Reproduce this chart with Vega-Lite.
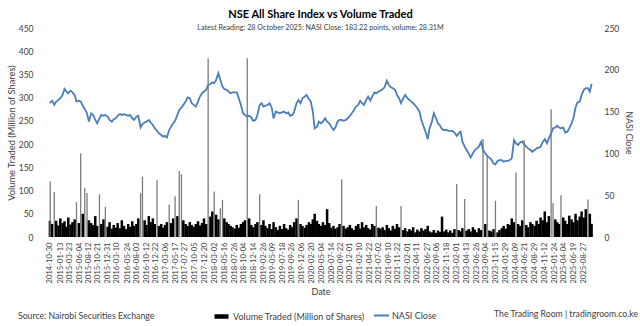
{
  "$schema": "https://vega.github.io/schema/vega-lite/v6.json",
  "width": 553,
  "height": 209,
  "autosize": {"type": "none"},
  "padding": {"left": 44, "top": 28, "right": 43, "bottom": 89},
  "background": "white",
  "title": {
    "text": "NSE All Share Index vs Volume Traded",
    "subtitle": "Latest Reading: 28 October 2025: NASI Close: 183.22 points, volume: 28.31M",
    "anchor": "middle",
    "frame": "group",
    "font": "Lato",
    "fontSize": 11,
    "fontWeight": "bold",
    "color": "#000000",
    "subtitleFont": "Lato",
    "subtitleFontSize": 7.2,
    "subtitleColor": "#404040",
    "subtitlePadding": 4,
    "offset": -7
  },
  "data": {
    "format": {"parse": {"date": "utc:'%Y-%m-%d'"}},
    "values": [
      {"date":"2014-10-30","volume":35,"nasi":160},
      {"date":"2014-11-01","volume":120,"nasi":161},
      {"date":"2014-11-15","volume":28,"nasi":163},
      {"date":"2014-12-01","volume":97,"nasi":158},
      {"date":"2014-12-15","volume":35,"nasi":162},
      {"date":"2015-01-01","volume":25,"nasi":164},
      {"date":"2015-01-15","volume":40,"nasi":166},
      {"date":"2015-02-01","volume":30,"nasi":170},
      {"date":"2015-02-15","volume":34,"nasi":177},
      {"date":"2015-03-01","volume":22,"nasi":174},
      {"date":"2015-03-15","volume":42,"nasi":172},
      {"date":"2015-04-01","volume":27,"nasi":175},
      {"date":"2015-04-15","volume":32,"nasi":173},
      {"date":"2015-05-01","volume":38,"nasi":170},
      {"date":"2015-05-15","volume":75,"nasi":162},
      {"date":"2015-06-01","volume":30,"nasi":163},
      {"date":"2015-06-15","volume":180,"nasi":162},
      {"date":"2015-07-01","volume":50,"nasi":157},
      {"date":"2015-07-15","volume":105,"nasi":153},
      {"date":"2015-08-01","volume":95,"nasi":148},
      {"date":"2015-08-15","volume":36,"nasi":138},
      {"date":"2015-09-01","volume":30,"nasi":148},
      {"date":"2015-09-15","volume":26,"nasi":146},
      {"date":"2015-10-01","volume":45,"nasi":140},
      {"date":"2015-10-15","volume":24,"nasi":136},
      {"date":"2015-11-01","volume":92,"nasi":142},
      {"date":"2015-11-15","volume":28,"nasi":146},
      {"date":"2015-12-01","volume":38,"nasi":145},
      {"date":"2015-12-15","volume":65,"nasi":146},
      {"date":"2016-01-01","volume":22,"nasi":144},
      {"date":"2016-01-15","volume":32,"nasi":140},
      {"date":"2016-02-01","volume":18,"nasi":138},
      {"date":"2016-02-15","volume":26,"nasi":141},
      {"date":"2016-03-01","volume":20,"nasi":142},
      {"date":"2016-03-15","volume":30,"nasi":145},
      {"date":"2016-04-01","volume":19,"nasi":147},
      {"date":"2016-04-15","volume":36,"nasi":146},
      {"date":"2016-05-01","volume":24,"nasi":147},
      {"date":"2016-05-15","volume":17,"nasi":146},
      {"date":"2016-06-01","volume":28,"nasi":145},
      {"date":"2016-06-15","volume":22,"nasi":146},
      {"date":"2016-07-01","volume":34,"nasi":142},
      {"date":"2016-07-15","volume":24,"nasi":140},
      {"date":"2016-08-01","volume":28,"nasi":144},
      {"date":"2016-08-15","volume":40,"nasi":145},
      {"date":"2016-09-01","volume":95,"nasi":131},
      {"date":"2016-09-15","volume":130,"nasi":135},
      {"date":"2016-10-01","volume":36,"nasi":137},
      {"date":"2016-10-15","volume":26,"nasi":138},
      {"date":"2016-11-01","volume":45,"nasi":140},
      {"date":"2016-11-15","volume":32,"nasi":137},
      {"date":"2016-12-01","volume":40,"nasi":134},
      {"date":"2016-12-15","volume":28,"nasi":130},
      {"date":"2017-01-01","volume":122,"nasi":127},
      {"date":"2017-01-15","volume":24,"nasi":124},
      {"date":"2017-02-01","volume":28,"nasi":122},
      {"date":"2017-02-15","volume":20,"nasi":120},
      {"date":"2017-03-01","volume":26,"nasi":121},
      {"date":"2017-03-15","volume":32,"nasi":119},
      {"date":"2017-04-01","volume":70,"nasi":128},
      {"date":"2017-04-15","volume":30,"nasi":132},
      {"date":"2017-05-01","volume":40,"nasi":136},
      {"date":"2017-05-15","volume":88,"nasi":139},
      {"date":"2017-06-01","volume":45,"nasi":146},
      {"date":"2017-06-15","volume":142,"nasi":152},
      {"date":"2017-07-01","volume":135,"nasi":155},
      {"date":"2017-07-15","volume":36,"nasi":158},
      {"date":"2017-08-01","volume":28,"nasi":162},
      {"date":"2017-08-15","volume":24,"nasi":167},
      {"date":"2017-09-01","volume":32,"nasi":166},
      {"date":"2017-09-15","volume":26,"nasi":160},
      {"date":"2017-10-01","volume":22,"nasi":158},
      {"date":"2017-10-15","volume":28,"nasi":156},
      {"date":"2017-11-01","volume":34,"nasi":162},
      {"date":"2017-11-15","volume":25,"nasi":168},
      {"date":"2017-12-01","volume":30,"nasi":172},
      {"date":"2017-12-15","volume":40,"nasi":174},
      {"date":"2018-01-01","volume":28,"nasi":176},
      {"date":"2018-01-15","volume":385,"nasi":182},
      {"date":"2018-02-01","volume":44,"nasi":183},
      {"date":"2018-02-15","volume":55,"nasi":185},
      {"date":"2018-03-01","volume":98,"nasi":184},
      {"date":"2018-03-15","volume":48,"nasi":188},
      {"date":"2018-04-01","volume":38,"nasi":196},
      {"date":"2018-04-15","volume":62,"nasi":188},
      {"date":"2018-05-01","volume":80,"nasi":180},
      {"date":"2018-05-15","volume":40,"nasi":177},
      {"date":"2018-06-01","volume":32,"nasi":176},
      {"date":"2018-06-15","volume":28,"nasi":174},
      {"date":"2018-07-01","volume":24,"nasi":172},
      {"date":"2018-07-15","volume":21,"nasi":173},
      {"date":"2018-08-01","volume":18,"nasi":173},
      {"date":"2018-08-15","volume":26,"nasi":173},
      {"date":"2018-09-01","volume":20,"nasi":165},
      {"date":"2018-09-15","volume":28,"nasi":158},
      {"date":"2018-10-01","volume":32,"nasi":148},
      {"date":"2018-10-15","volume":36,"nasi":146},
      {"date":"2018-11-01","volume":385,"nasi":144},
      {"date":"2018-11-15","volume":40,"nasi":145},
      {"date":"2018-12-01","volume":26,"nasi":143},
      {"date":"2018-12-15","volume":21,"nasi":139},
      {"date":"2019-01-01","volume":28,"nasi":140},
      {"date":"2019-01-15","volume":32,"nasi":146},
      {"date":"2019-02-01","volume":92,"nasi":158},
      {"date":"2019-02-15","volume":26,"nasi":160},
      {"date":"2019-03-01","volume":36,"nasi":156},
      {"date":"2019-03-15","volume":24,"nasi":157},
      {"date":"2019-04-01","volume":19,"nasi":158},
      {"date":"2019-04-15","volume":28,"nasi":160},
      {"date":"2019-05-01","volume":17,"nasi":155},
      {"date":"2019-05-15","volume":32,"nasi":142},
      {"date":"2019-06-01","volume":21,"nasi":150},
      {"date":"2019-06-15","volume":15,"nasi":149},
      {"date":"2019-07-01","volume":24,"nasi":148},
      {"date":"2019-07-15","volume":17,"nasi":149},
      {"date":"2019-08-01","volume":28,"nasi":150},
      {"date":"2019-08-15","volume":19,"nasi":148},
      {"date":"2019-09-01","volume":16,"nasi":149},
      {"date":"2019-09-15","volume":26,"nasi":145},
      {"date":"2019-10-01","volume":21,"nasi":146},
      {"date":"2019-10-15","volume":32,"nasi":150},
      {"date":"2019-11-01","volume":40,"nasi":160},
      {"date":"2019-11-15","volume":80,"nasi":164},
      {"date":"2019-12-01","volume":28,"nasi":160},
      {"date":"2019-12-15","volume":24,"nasi":166},
      {"date":"2020-01-01","volume":20,"nasi":168},
      {"date":"2020-01-15","volume":26,"nasi":170},
      {"date":"2020-02-01","volume":32,"nasi":165},
      {"date":"2020-02-15","volume":28,"nasi":162},
      {"date":"2020-03-01","volume":38,"nasi":150},
      {"date":"2020-03-15","volume":50,"nasi":130},
      {"date":"2020-04-01","volume":35,"nasi":132},
      {"date":"2020-04-15","volume":28,"nasi":138},
      {"date":"2020-05-01","volume":24,"nasi":136},
      {"date":"2020-05-15","volume":32,"nasi":138},
      {"date":"2020-06-01","volume":26,"nasi":142},
      {"date":"2020-06-15","volume":60,"nasi":138},
      {"date":"2020-07-01","volume":30,"nasi":136},
      {"date":"2020-07-15","volume":20,"nasi":132},
      {"date":"2020-08-01","volume":24,"nasi":128},
      {"date":"2020-08-15","volume":18,"nasi":131},
      {"date":"2020-09-01","volume":21,"nasi":138},
      {"date":"2020-09-15","volume":28,"nasi":140},
      {"date":"2020-10-01","volume":124,"nasi":140},
      {"date":"2020-10-15","volume":24,"nasi":139},
      {"date":"2020-11-01","volume":18,"nasi":140},
      {"date":"2020-11-15","volume":21,"nasi":142},
      {"date":"2020-12-01","volume":26,"nasi":145},
      {"date":"2020-12-15","volume":19,"nasi":148},
      {"date":"2021-01-01","volume":15,"nasi":152},
      {"date":"2021-01-15","volume":24,"nasi":156},
      {"date":"2021-02-01","volume":28,"nasi":158},
      {"date":"2021-02-15","volume":18,"nasi":163},
      {"date":"2021-03-01","volume":32,"nasi":160},
      {"date":"2021-03-15","volume":21,"nasi":158},
      {"date":"2021-04-01","volume":26,"nasi":164},
      {"date":"2021-04-15","volume":19,"nasi":168},
      {"date":"2021-05-01","volume":16,"nasi":163},
      {"date":"2021-05-15","volume":28,"nasi":168},
      {"date":"2021-06-01","volume":24,"nasi":173},
      {"date":"2021-06-15","volume":67,"nasi":172},
      {"date":"2021-07-01","volume":20,"nasi":174},
      {"date":"2021-07-15","volume":18,"nasi":175},
      {"date":"2021-08-01","volume":21,"nasi":177},
      {"date":"2021-08-15","volume":15,"nasi":179},
      {"date":"2021-09-01","volume":26,"nasi":187},
      {"date":"2021-09-15","volume":19,"nasi":182},
      {"date":"2021-10-01","volume":14,"nasi":179},
      {"date":"2021-10-15","volume":24,"nasi":178},
      {"date":"2021-11-01","volume":18,"nasi":176},
      {"date":"2021-11-15","volume":28,"nasi":170},
      {"date":"2021-12-01","volume":21,"nasi":166},
      {"date":"2021-12-15","volume":67,"nasi":160},
      {"date":"2022-01-01","volume":15,"nasi":166},
      {"date":"2022-01-15","volume":19,"nasi":170},
      {"date":"2022-02-01","volume":12,"nasi":166},
      {"date":"2022-02-15","volume":17,"nasi":164},
      {"date":"2022-03-01","volume":14,"nasi":162},
      {"date":"2022-03-15","volume":21,"nasi":160},
      {"date":"2022-04-01","volume":10,"nasi":157},
      {"date":"2022-04-15","volume":16,"nasi":154},
      {"date":"2022-05-01","volume":12,"nasi":150},
      {"date":"2022-05-15","volume":19,"nasi":140},
      {"date":"2022-06-01","volume":14,"nasi":132},
      {"date":"2022-06-15","volume":17,"nasi":126},
      {"date":"2022-07-01","volume":24,"nasi":117},
      {"date":"2022-07-15","volume":12,"nasi":130},
      {"date":"2022-08-01","volume":10,"nasi":138},
      {"date":"2022-08-15","volume":15,"nasi":148},
      {"date":"2022-09-01","volume":9,"nasi":142},
      {"date":"2022-09-15","volume":14,"nasi":136},
      {"date":"2022-10-01","volume":11,"nasi":133},
      {"date":"2022-10-15","volume":44,"nasi":129},
      {"date":"2022-11-01","volume":12,"nasi":128},
      {"date":"2022-11-15","volume":16,"nasi":128},
      {"date":"2022-12-01","volume":10,"nasi":127},
      {"date":"2022-12-15","volume":14,"nasi":127},
      {"date":"2023-01-01","volume":9,"nasi":127},
      {"date":"2023-01-15","volume":17,"nasi":125},
      {"date":"2023-02-01","volume":114,"nasi":121},
      {"date":"2023-02-15","volume":15,"nasi":124},
      {"date":"2023-03-01","volume":12,"nasi":126},
      {"date":"2023-03-15","volume":19,"nasi":114},
      {"date":"2023-04-01","volume":82,"nasi":108},
      {"date":"2023-04-15","volume":14,"nasi":104},
      {"date":"2023-05-01","volume":17,"nasi":100},
      {"date":"2023-05-15","volume":12,"nasi":95},
      {"date":"2023-06-01","volume":21,"nasi":100},
      {"date":"2023-06-15","volume":16,"nasi":104},
      {"date":"2023-07-01","volume":10,"nasi":106},
      {"date":"2023-07-15","volume":19,"nasi":108},
      {"date":"2023-08-01","volume":15,"nasi":114},
      {"date":"2023-08-15","volume":211,"nasi":104},
      {"date":"2023-09-01","volume":28,"nasi":100},
      {"date":"2023-09-15","volume":173,"nasi":97},
      {"date":"2023-10-01","volume":14,"nasi":95},
      {"date":"2023-10-15","volume":12,"nasi":93},
      {"date":"2023-11-01","volume":17,"nasi":88},
      {"date":"2023-11-15","volume":78,"nasi":87},
      {"date":"2023-12-01","volume":10,"nasi":91},
      {"date":"2023-12-15","volume":15,"nasi":92},
      {"date":"2024-01-01","volume":19,"nasi":92},
      {"date":"2024-01-15","volume":24,"nasi":90},
      {"date":"2024-02-01","volume":18,"nasi":91},
      {"date":"2024-02-15","volume":28,"nasi":91},
      {"date":"2024-03-01","volume":26,"nasi":92},
      {"date":"2024-03-15","volume":40,"nasi":94},
      {"date":"2024-04-01","volume":32,"nasi":116},
      {"date":"2024-04-15","volume":139,"nasi":112},
      {"date":"2024-05-01","volume":28,"nasi":110},
      {"date":"2024-05-15","volume":24,"nasi":113},
      {"date":"2024-06-01","volume":36,"nasi":114},
      {"date":"2024-06-15","volume":209,"nasi":111},
      {"date":"2024-07-01","volume":26,"nasi":108},
      {"date":"2024-07-15","volume":21,"nasi":106},
      {"date":"2024-08-01","volume":32,"nasi":104},
      {"date":"2024-08-15","volume":28,"nasi":102},
      {"date":"2024-09-01","volume":24,"nasi":104},
      {"date":"2024-09-15","volume":35,"nasi":106},
      {"date":"2024-10-01","volume":28,"nasi":107},
      {"date":"2024-10-15","volume":42,"nasi":108},
      {"date":"2024-11-01","volume":36,"nasi":114},
      {"date":"2024-11-15","volume":55,"nasi":117},
      {"date":"2024-12-01","volume":32,"nasi":112},
      {"date":"2024-12-15","volume":45,"nasi":118},
      {"date":"2025-01-01","volume":275,"nasi":124},
      {"date":"2025-01-15","volume":73,"nasi":130},
      {"date":"2025-02-01","volume":38,"nasi":131},
      {"date":"2025-02-15","volume":32,"nasi":133},
      {"date":"2025-03-01","volume":28,"nasi":131},
      {"date":"2025-03-15","volume":90,"nasi":130},
      {"date":"2025-04-01","volume":42,"nasi":131},
      {"date":"2025-04-15","volume":35,"nasi":125},
      {"date":"2025-05-01","volume":28,"nasi":126},
      {"date":"2025-05-15","volume":46,"nasi":130},
      {"date":"2025-06-01","volume":38,"nasi":136},
      {"date":"2025-06-15","volume":32,"nasi":142},
      {"date":"2025-07-01","volume":50,"nasi":155},
      {"date":"2025-07-15","volume":36,"nasi":161},
      {"date":"2025-08-01","volume":44,"nasi":162},
      {"date":"2025-08-15","volume":55,"nasi":170},
      {"date":"2025-09-01","volume":42,"nasi":176},
      {"date":"2025-09-15","volume":60,"nasi":178},
      {"date":"2025-10-01","volume":81,"nasi":178},
      {"date":"2025-10-15","volume":50,"nasi":174},
      {"date":"2025-10-28","volume":28.31,"nasi":183.22}
    ]
  },
  "encoding": {
    "x": {
      "field": "date",
      "type": "temporal",
      "scale": {
        "type": "utc",
        "nice": false,
        "domain": [
          {"year": 2014, "month": 10, "date": 23, "utc": true},
          {"year": 2025, "month": 10, "date": 31, "utc": true}
        ]
      },
      "axis": {
        "title": "Date",
        "values": [
          {"year":2014,"month":10,"date":30,"utc":true},
          {"year":2015,"month":1,"date":13,"utc":true},
          {"year":2015,"month":3,"date":23,"utc":true},
          {"year":2015,"month":6,"date":4,"utc":true},
          {"year":2015,"month":8,"date":12,"utc":true},
          {"year":2015,"month":10,"date":21,"utc":true},
          {"year":2015,"month":12,"date":31,"utc":true},
          {"year":2016,"month":3,"date":10,"utc":true},
          {"year":2016,"month":5,"date":24,"utc":true},
          {"year":2016,"month":8,"date":3,"utc":true},
          {"year":2016,"month":10,"date":12,"utc":true},
          {"year":2016,"month":12,"date":22,"utc":true},
          {"year":2017,"month":3,"date":6,"utc":true},
          {"year":2017,"month":5,"date":17,"utc":true},
          {"year":2017,"month":7,"date":27,"utc":true},
          {"year":2017,"month":10,"date":5,"utc":true},
          {"year":2017,"month":12,"date":20,"utc":true},
          {"year":2018,"month":3,"date":2,"utc":true},
          {"year":2018,"month":5,"date":16,"utc":true},
          {"year":2018,"month":7,"date":26,"utc":true},
          {"year":2018,"month":10,"date":4,"utc":true},
          {"year":2018,"month":12,"date":14,"utc":true},
          {"year":2019,"month":2,"date":26,"utc":true},
          {"year":2019,"month":5,"date":9,"utc":true},
          {"year":2019,"month":7,"date":18,"utc":true},
          {"year":2019,"month":9,"date":26,"utc":true},
          {"year":2019,"month":12,"date":6,"utc":true},
          {"year":2020,"month":2,"date":20,"utc":true},
          {"year":2020,"month":5,"date":4,"utc":true},
          {"year":2020,"month":7,"date":14,"utc":true},
          {"year":2020,"month":9,"date":22,"utc":true},
          {"year":2020,"month":12,"date":1,"utc":true},
          {"year":2021,"month":2,"date":10,"utc":true},
          {"year":2021,"month":4,"date":22,"utc":true},
          {"year":2021,"month":7,"date":2,"utc":true},
          {"year":2021,"month":9,"date":10,"utc":true},
          {"year":2021,"month":11,"date":22,"utc":true},
          {"year":2022,"month":2,"date":1,"utc":true},
          {"year":2022,"month":4,"date":11,"utc":true},
          {"year":2022,"month":6,"date":27,"utc":true},
          {"year":2022,"month":9,"date":6,"utc":true},
          {"year":2022,"month":11,"date":18,"utc":true},
          {"year":2023,"month":2,"date":1,"utc":true},
          {"year":2023,"month":4,"date":13,"utc":true},
          {"year":2023,"month":6,"date":26,"utc":true},
          {"year":2023,"month":9,"date":4,"utc":true},
          {"year":2023,"month":11,"date":15,"utc":true},
          {"year":2024,"month":1,"date":29,"utc":true},
          {"year":2024,"month":4,"date":9,"utc":true},
          {"year":2024,"month":6,"date":21,"utc":true},
          {"year":2024,"month":8,"date":29,"utc":true},
          {"year":2024,"month":11,"date":12,"utc":true},
          {"year":2025,"month":1,"date":24,"utc":true},
          {"year":2025,"month":4,"date":4,"utc":true},
          {"year":2025,"month":6,"date":19,"utc":true},
          {"year":2025,"month":8,"date":27,"utc":true}
        ],
        "labelExpr": "utcFormat(datum.value, '%Y-%m-%d')",
        "labelAngle": -90,
        "labelFontSize": 7.6,
        "labelPadding": 5,
        "labelOverlap": false,
        "labelFlush": false,
        "labelBound": false,
        "titleFontSize": 9,
        "titlePadding": 5
      }
    }
  },
  "layer": [
    {
      "mark": {"type": "bar"},
      "encoding": {
        "y": {
          "field": "volume",
          "type": "quantitative",
          "scale": {"domain": [0, 450], "nice": false},
          "axis": {
            "title": "Volume Traded (Million of Shares)",
            "orient": "left",
            "values": [0, 50, 100, 150, 200, 250, 300, 350, 400, 450],
            "labelPadding": 11,
            "titleFontSize": 9.3,
            "titlePadding": 2
          }
        },
        "size": {
          "condition": {"test": "datum.volume > 60", "value": 1.3},
          "value": 2.5
        },
        "fill": {
          "datum": "Volume Traded (Million of Shares)",
          "scale": {"range": ["#000000"]},
          "condition": {"test": "datum.volume > 60", "value": "#7c7c7c"},
          "legend": {
            "orient": "none",
            "legendX": -26,
            "legendY": 279,
            "direction": "horizontal",
            "padding": 0,
            "title": "Source: Nairobi Securities Exchange",
            "titleOrient": "left",
            "titlePadding": 57,
            "titleFont": "Lato",
            "titleFontWeight": "normal",
            "titleFontSize": 8.7,
            "titleColor": "#404040",
            "labelFont": "Lato",
            "labelFontSize": 9,
            "labelColor": "#404040",
            "labelOffset": 2,
            "symbolType": "stroke",
            "symbolSize": 196,
            "symbolStrokeWidth": 4.5,
            "symbolStrokeColor": "#000000"
          }
        }
      }
    },
    {
      "mark": {"type": "line", "strokeWidth": 1.8},
      "encoding": {
        "y": {
          "field": "nasi",
          "type": "quantitative",
          "scale": {"domain": [0, 250], "nice": false},
          "axis": {
            "title": "NASI Close",
            "orient": "right",
            "values": [0, 50, 100, 150, 200, 250],
            "labelPadding": 7,
            "titlePadding": 5
          }
        },
        "stroke": {
          "datum": "NASI Close",
          "scale": {"range": ["#4a7ebb"]},
          "legend": {
            "orient": "none",
            "legendX": 329,
            "legendY": 279,
            "direction": "horizontal",
            "padding": 0,
            "title": "The Trading Room | tradingroom.co.ke",
            "titleOrient": "right",
            "titlePadding": 57,
            "titleFont": "Lato",
            "titleFontWeight": "normal",
            "titleFontSize": 8.7,
            "titleColor": "#404040",
            "labelFont": "Lato",
            "labelFontSize": 9,
            "labelColor": "#404040",
            "labelOffset": 2,
            "symbolType": "stroke",
            "symbolSize": 225,
            "symbolStrokeWidth": 2
          }
        }
      }
    }
  ],
  "resolve": {"scale": {"y": "independent", "fill": "independent", "stroke": "independent"}},
  "config": {
    "font": "Lato",
    "view": {"stroke": null},
    "axis": {
      "grid": false,
      "domain": false,
      "ticks": false,
      "labelFont": "Lato",
      "labelFontSize": 8.5,
      "labelColor": "#404040",
      "titleFont": "Lato",
      "titleFontSize": 8.7,
      "titleFontWeight": "normal",
      "titleColor": "#404040"
    }
  }
}
